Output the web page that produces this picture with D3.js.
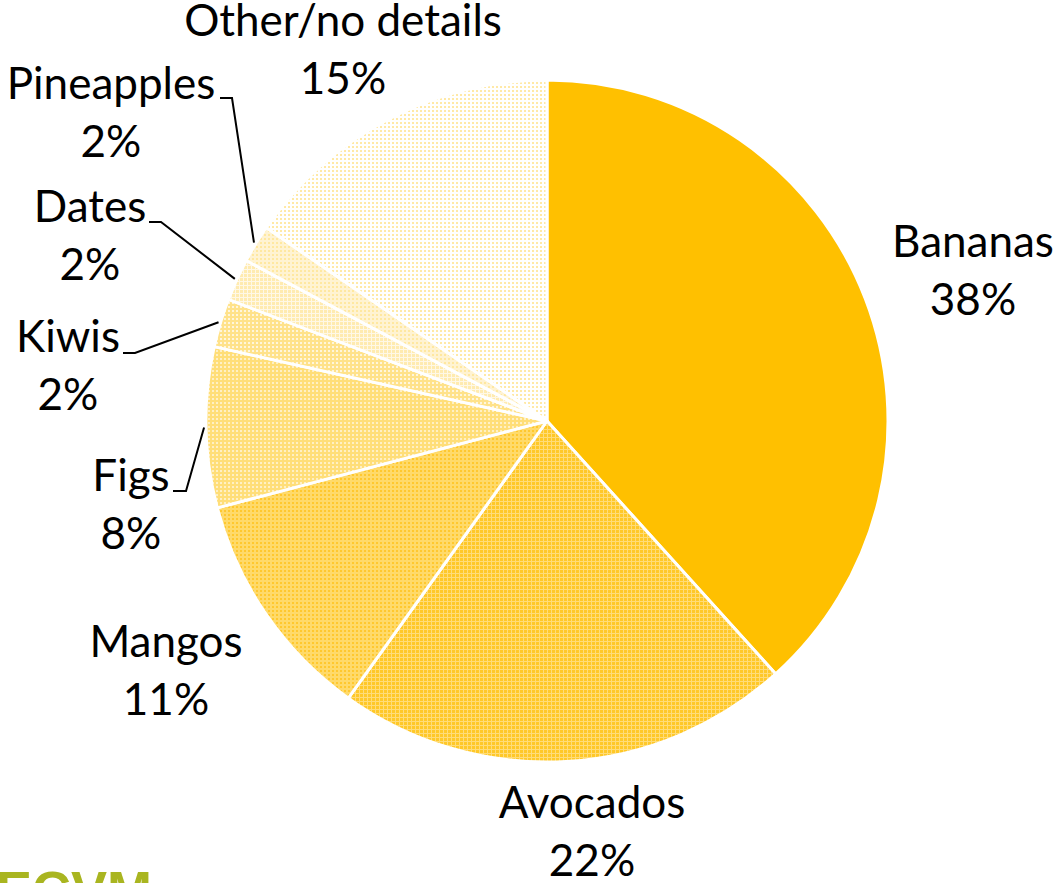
<!DOCTYPE html>
<html>
<head>
<meta charset="utf-8">
<script src="https://cdn.jsdelivr.net/npm/d3@7"></script>
<style>
  html, body { margin: 0; padding: 0; background: #fff; overflow: hidden; }
  svg { display: block; }
</style>
</head>
<body>
<svg id="chart" width="1056" height="883"></svg>
<script>
// Data
const categories = ["Bananas", "Avocados", "Mangos", "Figs", "Kiwis", "Dates", "Pineapples", "Other/no details"];
const shares = [38.3, 21.6, 11.0, 7.6, 2.3, 2.0, 1.8, 15.4];
const percentLabels = ["38%", "22%", "11%", "8%", "2%", "2%", "2%", "15%"];

const W = 1056, H = 883;
const cx = 547, cy = 421, R = 341;
const svg = d3.select("#chart");
const defs = svg.append("defs");

// Pattern fills approximating the Excel textures
const patternSpecs = [
  { id: "p0", bg: "#FFC000", dots: null },
  { id: "p1", bg: "#FFC828", grid: "#FFDC78" },
  { id: "p2", bg: "#FFDA6A", dots: "#FFC82E" },
  { id: "p3", bg: "#FFDE78", dots: "#FFF0C4" },
  { id: "p4", bg: "#FFE28A", dots: "#FFF6DC" },
  { id: "p5", bg: "#FFEBB0", grid: "#FFF8E6" },
  { id: "p6", bg: "#FFF3D2", dots: "#FFE8A0" },
  { id: "p7", bg: "#FFFFFF", dots: "#FFE9A6" }
];
patternSpecs.forEach(s => {
  const p = defs.append("pattern").attr("id", s.id).attr("patternUnits", "userSpaceOnUse")
    .attr("width", 4).attr("height", 4);
  p.append("rect").attr("width", 4).attr("height", 4).attr("fill", s.bg);
  if (s.dots) p.append("rect").attr("x", 1).attr("y", 1).attr("width", 2).attr("height", 2).attr("fill", s.dots);
  if (s.grid) {
    p.append("rect").attr("x", 0).attr("y", 0).attr("width", 4).attr("height", 1).attr("fill", s.grid);
    p.append("rect").attr("x", 0).attr("y", 0).attr("width", 1).attr("height", 4).attr("fill", s.grid);
  }
});

const pie = d3.pie().sort(null).value(d => d)(shares);
const arc = d3.arc().innerRadius(0).outerRadius(R);
const g = svg.append("g").attr("transform", `translate(${cx},${cy})`);
g.selectAll("path.slice").data(pie).join("path")
  .attr("class", "slice")
  .attr("d", arc)
  .attr("fill", (d, i) => `url(#p${i})`)
  .attr("stroke", "#fff")
  .attr("stroke-width", 3)
  .attr("stroke-linejoin", "round");

// Labels (name + percent), position anchors
const labelPos = [
  { x: 973, y: 257 },
  { x: 592, y: 818 },
  { x: 166, y: 657 },
  { x: 131, y: 491 },
  { x: 68, y: 352 },
  { x: 90, y: 222 },
  { x: 111, y: 99 },
  { x: 343, y: 36 }
];
const fontFamily = "Lato, 'Open Sans', sans-serif";
const fs = 44;
const lineGap = 58;
categories.forEach((c, i) => {
  const t = svg.append("text")
    .attr("x", labelPos[i].x).attr("y", labelPos[i].y)
    .attr("text-anchor", "middle")
    .attr("font-family", fontFamily).attr("font-size", fs).attr("fill", "#000");
  t.append("tspan").attr("x", labelPos[i].x).text(c);
  t.append("tspan").attr("x", labelPos[i].x).attr("dy", lineGap).text(percentLabels[i]);
});

// Leader lines: from label end to slice edge midpoint
const leaders = [
  { idx: 6, pts: [[220, 98], [232, 98]] },
  { idx: 5, pts: [[149, 222], [161, 222]] },
  { idx: 4, pts: [[123, 353], [135, 353]] },
  { idx: 3, pts: [[173, 491], [186, 491]] }
];
leaders.forEach(l => {
  const d = pie[l.idx];
  const a = (d.startAngle + d.endAngle) / 2;
  const edge = [cx + (R + 2) * Math.sin(a), cy - (R + 2) * Math.cos(a)];
  svg.append("path")
    .attr("d", d3.line()([...l.pts, edge]))
    .attr("fill", "none").attr("stroke", "#000").attr("stroke-width", 2);
});

// Cropped logo at bottom-left
svg.append("text").attr("x", -4).attr("y", 909)
  .attr("font-family", "'Liberation Sans', sans-serif").attr("font-weight", "bold")
  .attr("font-size", 54).attr("fill", "#A9B520").text("ECVM");
</script>
</body>
</html>
